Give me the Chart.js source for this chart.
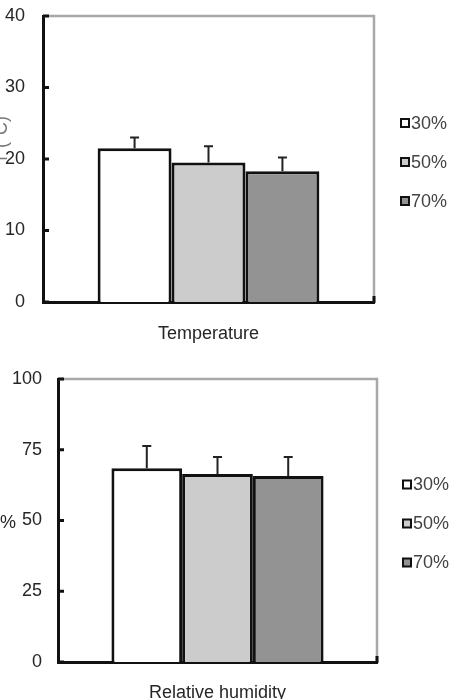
<!DOCTYPE html>
<html>
<head>
<meta charset="utf-8">
<script src="https://cdn.jsdelivr.net/npm/chart.js@4.4.1/dist/chart.umd.min.js"></script>
<style>
  html, body { margin: 0; padding: 0; background: #fff; width: 458px; height: 699px; overflow: hidden; }
  canvas { position: absolute; left: 0; }
  #c1 { top: 0; }
  #c2 { top: 350px; }
</style>
</head>
<body>
<canvas id="c1" width="458" height="350"></canvas>
<canvas id="c2" width="458" height="349"></canvas>
<script>
// ---- data ----
const seriesLabels = ['30%', '50%', '70%'];
const tempCategories = ['Temperature'];
const tempMeans = [21.5, 19.5, 18.3];
const tempErrors = [1.5, 2.3, 1.9];
const tempTicks = [0, 10, 20, 30, 40];
const rhCategories = ['Relative humidity'];
const rhMeans = [68.5, 66.4, 65.7];
const rhErrors = [7.8, 6.0, 6.7];
const rhTicks = [0, 25, 50, 75, 100];

// ---- styling ----
const FONT = "'Liberation Sans Narrow', 'Arial Narrow', 'Liberation Sans', Arial, sans-serif";
const fills = ['#ffffff', '#cccccc', '#939393'];
const textColor = '#262626';

const errorBarPlugin = {
  id: 'errorBars',
  afterDatasetsDraw(chart) {
    const ctx = chart.ctx, ys = chart.scales.y;
    ctx.save();
    ctx.strokeStyle = '#222';
    ctx.lineWidth = 2;
    chart.data.datasets.forEach((ds, i) => {
      const meta = chart.getDatasetMeta(i);
      meta.data.forEach((bar, j) => {
        const v = ds.data[j], e = ds.errors[j];
        const x = bar.x;
        const y0 = ys.getPixelForValue(v);
        const y1 = ys.getPixelForValue(v + e);
        ctx.beginPath();
        ctx.moveTo(x, y0); ctx.lineTo(x, y1);
        ctx.moveTo(x - 4.5, y1); ctx.lineTo(x + 4.5, y1);
        ctx.stroke();
      });
    });
    ctx.restore();
  }
};

const framePlugin = {
  id: 'frame',
  beforeDatasetsDraw(chart) {
    const ctx = chart.ctx, a = chart.chartArea;
    ctx.save();
    ctx.strokeStyle = '#a8a8a8';
    ctx.lineWidth = 2.5;
    ctx.beginPath();
    ctx.moveTo(a.left, a.top);
    ctx.lineTo(a.right, a.top);
    ctx.lineTo(a.right, a.bottom);
    ctx.stroke();
    ctx.restore();
  },
  afterDraw(chart, args, opts) {
    const ctx = chart.ctx, a = chart.chartArea, ys = chart.scales.y;
    ctx.save();
    ctx.strokeStyle = '#111';
    ctx.lineWidth = 3;
    ys.ticks.forEach(t => {
      const p = ys.getPixelForValue(t.value);
      ctx.beginPath(); ctx.moveTo(a.left, p); ctx.lineTo(a.left + 6, p); ctx.stroke();
    });
    ctx.beginPath(); ctx.moveTo(a.right, a.bottom + 1); ctx.lineTo(a.right, a.bottom - 6); ctx.stroke();
    ctx.fillStyle = opts.titleColor;
    ctx.font = opts.titleFont;
    if (opts.rotated) {
      ctx.translate(opts.tx, opts.ty);
      ctx.rotate(-Math.PI / 2);
      ctx.textAlign = 'center';
      ctx.textBaseline = 'alphabetic';
      ctx.fillText(opts.title, 0, 0);
    } else {
      ctx.textAlign = 'left';
      ctx.textBaseline = 'middle';
      ctx.fillText(opts.title, opts.tx, opts.ty);
    }
    ctx.restore();
  }
};

const legendPlugin = {
  id: 'sideLegend',
  afterDraw(chart, args, opts) {
    const ctx = chart.ctx, a = chart.chartArea;
    const cy = (a.top + a.bottom) / 2 + opts.shift;
    ctx.save();
    ctx.font = opts.font;
    ctx.textBaseline = 'middle';
    ctx.textAlign = 'left';
    chart.data.datasets.forEach((ds, i) => {
      const y = cy + (i - 1) * opts.gap;
      ctx.fillStyle = ds.backgroundColor;
      ctx.fillRect(opts.x, y - 4, 8, 8);
      ctx.strokeStyle = '#111';
      ctx.lineWidth = 2;
      ctx.strokeRect(opts.x, y - 4, 8, 8);
      ctx.fillStyle = '#444';
      ctx.fillText(ds.label, opts.x + 10, y + 1);
    });
    ctx.restore();
  }
};

function makeChart(id, categories, means, errors, ticks, cfg) {
  const datasets = seriesLabels.map((lab, i) => ({
    label: lab,
    data: [means[i]],
    errors: [errors[i]],
    backgroundColor: fills[i],
    borderColor: '#111',
    borderWidth: 3,
    borderSkipped: 'bottom',
    categoryPercentage: cfg.catPct,
    barPercentage: 1.0
  }));
  return new Chart(document.getElementById(id), {
    type: 'bar',
    data: { labels: categories, datasets },
    plugins: [framePlugin, errorBarPlugin, legendPlugin],
    options: {
      responsive: false,
      animation: false,
      devicePixelRatio: 1,
      layout: { padding: { top: cfg.top, right: cfg.right, left: 0, bottom: 0 } },
      plugins: {
        legend: { display: false },
        tooltip: { enabled: false },
        frame: { title: cfg.title, rotated: cfg.rotated, tx: cfg.tx, ty: cfg.ty,
                 titleFont: '18px ' + FONT, titleColor: cfg.titleColor },
        sideLegend: { x: cfg.legX, gap: 39, shift: 3, font: '18px ' + FONT }
      },
      scales: {
        x: {
          grid: { display: false, drawTicks: false },
          border: { display: true, color: '#111', width: 3 },
          ticks: { color: textColor, font: { family: FONT, size: 18 }, padding: cfg.xPad, maxRotation: 0 },
          afterFit: s => { s.height = cfg.xH; s.paddingLeft = 0; s.paddingRight = 0; }
        },
        y: {
          min: ticks[0], max: ticks[ticks.length - 1],
          afterBuildTicks: s => { s.ticks = ticks.map(v => ({ value: v })); },
          grid: { display: false, drawTicks: false },
          border: { display: true, color: '#111', width: 3 },
          ticks: { color: textColor, font: { family: FONT, size: 18 }, padding: cfg.yPad },
          afterFit: s => { s.width = cfg.yW; s.paddingTop = 0; s.paddingBottom = 0; }
        }
      }
    }
  });
}

makeChart('c1', tempCategories, tempMeans, tempErrors, tempTicks, {
  catPct: 0.67, top: 16, right: 84, xH: 48, yW: 43, xPad: 21, yPad: 18,
  title: 'T (°C)', rotated: true, tx: 7, ty: 140, titleColor: '#777', legX: 401
});
makeChart('c2', rhCategories, rhMeans, rhErrors, rhTicks, {
  catPct: 0.665, top: 29, right: 81, xH: 37, yW: 58, xPad: 20, yPad: 16,
  title: '%', rotated: false, tx: 0, ty: 173, titleColor: textColor, legX: 403
});
</script>
</body>
</html>
